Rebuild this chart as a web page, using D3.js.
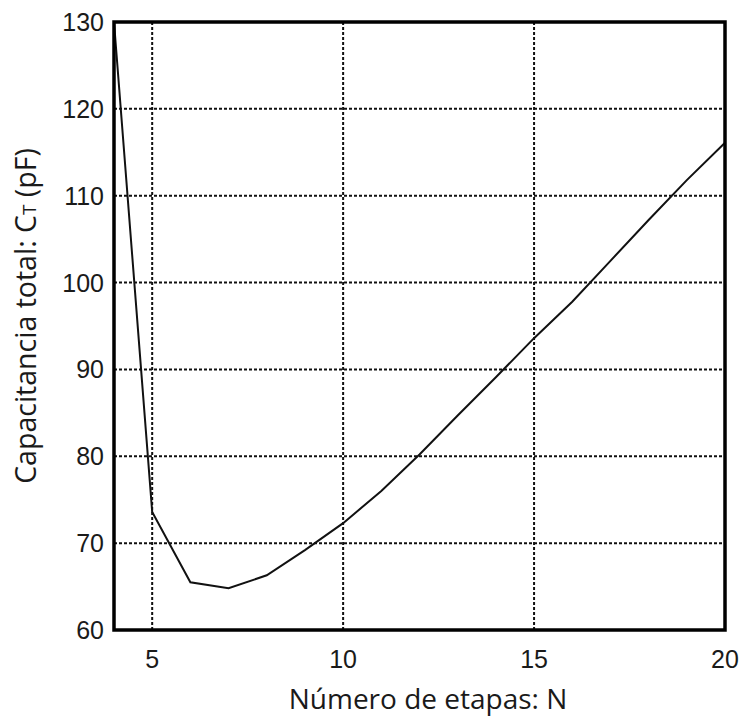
<!DOCTYPE html>
<html>
<head>
<meta charset="utf-8">
<script src="https://cdn.jsdelivr.net/npm/d3@7"></script>
<style>
  body { margin: 0; background: #fff; }
</style>
</head>
<body>
<div id="chart"></div>
<script>
const stages = [4, 5, 6, 7, 8, 9, 10, 11, 12, 13, 14, 15, 16, 17, 18, 19, 20];
const capacitance = [130, 73.6, 65.5, 64.8, 66.3, 69.2, 72.3, 76.0, 80.2, 84.7, 89.1, 93.6, 97.8, 102.5, 107.2, 111.8, 116.1];
const xTicks = [5, 10, 15, 20];
const yTicks = [60, 70, 80, 90, 100, 110, 120, 130];

const width = 742;
const height = 716;
const margin = { top: 22, right: 17, bottom: 86, left: 114 };

const svg = d3.select("#chart").append("svg")
  .attr("width", width)
  .attr("height", height);

const x = d3.scaleLinear().domain([4, 20]).range([margin.left, width - margin.right]);
const y = d3.scaleLinear().domain([60, 130]).range([height - margin.bottom, margin.top]);

// grid
svg.append("g")
  .selectAll("line")
  .data(xTicks.filter(d => d < 20))
  .join("line")
  .attr("x1", d => x(d)).attr("x2", d => x(d))
  .attr("y1", y(60)).attr("y2", y(130))
  .attr("stroke", "#111")
  .attr("stroke-width", 2)
  .attr("stroke-dasharray", "3,2");

svg.append("g")
  .selectAll("line")
  .data(yTicks.filter(d => d > 60 && d < 130))
  .join("line")
  .attr("x1", x(4)).attr("x2", x(20))
  .attr("y1", d => y(d)).attr("y2", d => y(d))
  .attr("stroke", "#111")
  .attr("stroke-width", 2)
  .attr("stroke-dasharray", "3,2");

// curve
const line = d3.line().x((d, i) => x(stages[i])).y(d => y(d));
svg.append("path")
  .datum(capacitance)
  .attr("d", line)
  .attr("fill", "none")
  .attr("stroke", "#111")
  .attr("stroke-width", 2);

// frame
svg.append("rect")
  .attr("x", x(4)).attr("y", y(130))
  .attr("width", x(20) - x(4))
  .attr("height", y(60) - y(130))
  .attr("fill", "none")
  .attr("stroke", "#000")
  .attr("stroke-width", 3.5);

// tick labels
svg.append("g")
  .selectAll("text")
  .data(xTicks)
  .join("text")
  .attr("x", d => x(d))
  .attr("y", y(60) + 38)
  .attr("text-anchor", "middle")
  .attr("font-family", "Liberation Sans, Arial, sans-serif")
  .attr("font-size", 25)
  .attr("fill", "#1a1a1a")
  .text(d => d);

svg.append("g")
  .selectAll("text")
  .data(yTicks)
  .join("text")
  .attr("x", x(4) - 10)
  .attr("y", d => y(d) + 9)
  .attr("text-anchor", "end")
  .attr("font-family", "Liberation Sans, Arial, sans-serif")
  .attr("font-size", 25)
  .attr("fill", "#1a1a1a")
  .text(d => d);

// axis titles
svg.append("text")
  .attr("x", 428)
  .attr("y", 709)
  .attr("text-anchor", "middle")
  .attr("font-family", "Open Sans, Noto Sans, sans-serif")
  .attr("font-size", 28)
  .attr("fill", "#1a1a1a")
  .text("Número de etapas: N");

const yTitle = svg.append("text")
  .attr("transform", "translate(36, 316) rotate(-90)")
  .attr("text-anchor", "middle")
  .attr("font-family", "Open Sans, Noto Sans, sans-serif")
  .attr("font-size", 28.5)
  .attr("fill", "#1a1a1a");
yTitle.append("tspan").text("Capacitancia total: C");
yTitle.append("tspan").attr("font-size", 19).text("T");
yTitle.append("tspan").text(" (pF)");
</script>
</body>
</html>
